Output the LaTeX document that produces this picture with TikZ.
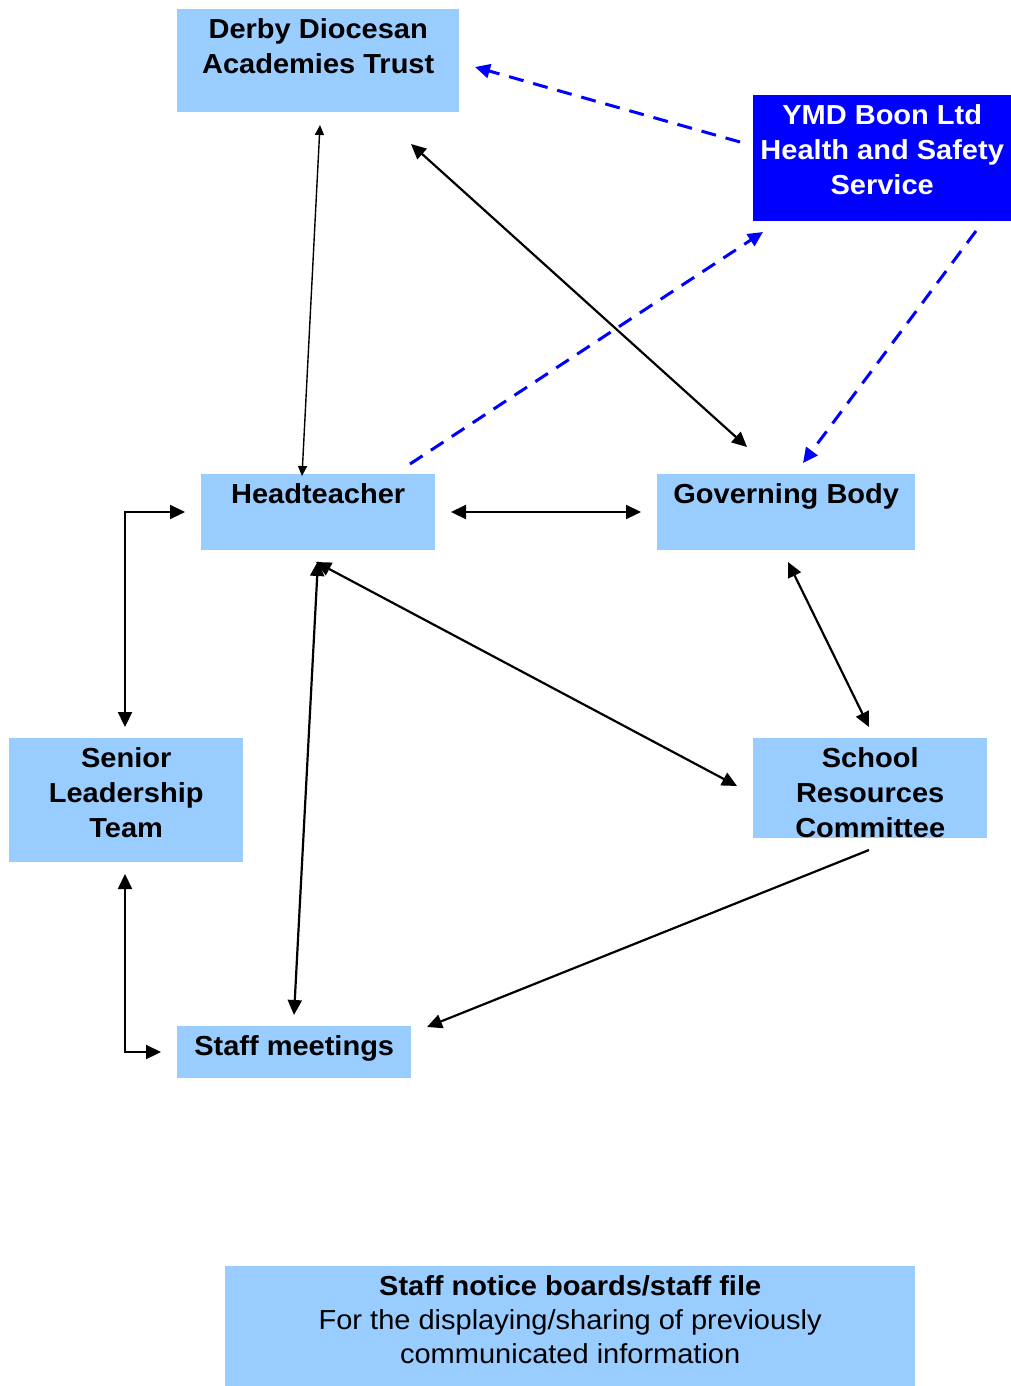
\documentclass[tikz,border=0pt]{standalone}
\usepackage{fontspec}
\setmainfont{Liberation Sans}[FakeStretch=1.055]
\usetikzlibrary{arrows.meta}
\definecolor{lightbox}{HTML}{99CCFF}
\definecolor{darkbox}{HTML}{0000FF}
\newcommand{\boxtext}[3]{\parbox[c][#2][t]{#1}{\centering\rule{0pt}{29pt}#3}}
\tikzset{
  box/.style={fill=lightbox, draw=none, inner sep=0pt, anchor=north west, font=\fontsize{27.5}{35}\selectfont\bfseries},
  darkbx/.style={box, fill=darkbox, text=white},
  link/.style={line width=2.2pt, {Triangle[length=15pt,width=14pt]}-{Triangle[length=15pt,width=14pt]}},
  thinlink/.style={line width=1.4pt, {Triangle[length=10pt,width=9pt]}-{Triangle[length=10pt,width=9pt]}},
  onelink/.style={line width=2.2pt, -{Triangle[length=15pt,width=14pt]}},
  dashlink/.style={line width=3pt, darkbox, dash pattern=on 15pt off 10pt, -{Triangle[length=15pt,width=14pt]}}
}
\begin{document}
\begin{tikzpicture}[x=1pt,y=-1pt]
\useasboundingbox (0,0) rectangle (1011,1386);
% boxes
\node[box] (ddat) at (177,9) {\boxtext{282pt}{103pt}{Derby Diocesan\\Academies Trust}};
\node[darkbx] (ymd) at (753,95) {\boxtext{258pt}{126pt}{YMD Boon Ltd\\Health and Safety\\Service}};
\node[box] (ht) at (201,474) {\boxtext{234pt}{76pt}{Headteacher}};
\node[box] (gb) at (657,474) {\boxtext{258pt}{76pt}{Governing Body}};
\node[box] (slt) at (9,738) {\boxtext{234pt}{124pt}{Senior\\Leadership\\Team}};
\node[box] (src) at (753,738) {\boxtext{234pt}{100pt}{School\\Resources\\Committee}};
\node[box] (sm) at (177,1026) {\boxtext{234pt}{52pt}{Staff meetings}};
\node[box, font=\fontsize{27.5}{34}\selectfont] (nb) at (225,1266)
  {\parbox[c][120pt][t]{690pt}{\centering\rule{0pt}{29pt}\textbf{Staff notice boards/staff file}\\For the displaying/sharing of previously\\communicated information}};
% connector end points
\coordinate (ddat-ht) at (320,125);   \coordinate (ht-ddat) at (302,476);
\coordinate (ddat-gb) at (411,144);   \coordinate (gb-ddat) at (747,447);
\coordinate (ymd-ddat) at (740,142);  \coordinate (ddat-ymd) at (475,67);
\coordinate (ht-ymd) at (410,464);    \coordinate (ymd-ht) at (763,232);
\coordinate (ymd-gb) at (976,231);    \coordinate (gb-ymd) at (803,463);
\coordinate (ht-gb) at (451,512);     \coordinate (gb-ht) at (641,512);
\coordinate (slt-ht) at (125,727);    \coordinate (ht-slt) at (185,512);
\coordinate (ht-src) at (316,562);    \coordinate (src-ht) at (737,786);
\coordinate (ht-sm) at (318,561);     \coordinate (sm-ht) at (294,1015);
\coordinate (gb-src) at (788,562);    \coordinate (src-gb) at (869,727);
\coordinate (src-sm) at (869,850);    \coordinate (sm-src) at (427,1027);
\coordinate (slt-sm) at (125,874);    \coordinate (sm-slt) at (161,1052);
% connectors
\draw[thinlink] (ddat-ht) -- (ht-ddat);
\draw[link] (ddat-gb) -- (gb-ddat);
\draw[dashlink] (ymd-ddat) -- (ddat-ymd);
\draw[dashlink] (ht-ymd) -- (ymd-ht);
\draw[dashlink] (ymd-gb) -- (gb-ymd);
\draw[link] (ht-gb) -- (gb-ht);
\draw[link] (slt-ht) |- (ht-slt);
\draw[link] (ht-src) -- (src-ht);
\draw[link] (ht-sm) -- (sm-ht);
\draw[link] (gb-src) -- (src-gb);
\draw[onelink] (src-sm) -- (sm-src);
\draw[link] (slt-sm) |- (sm-slt);
\end{tikzpicture}
\end{document}
